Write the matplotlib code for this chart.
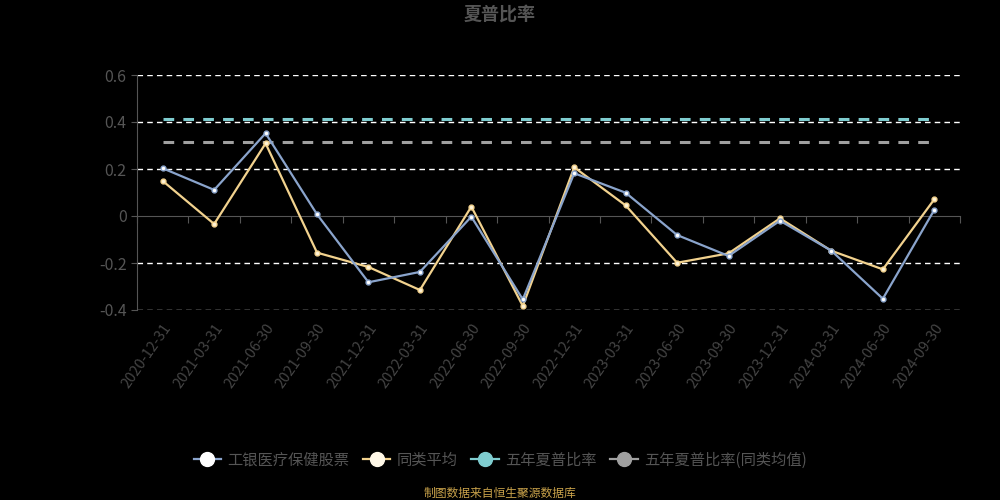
import matplotlib
matplotlib.use("Agg")
import matplotlib.pyplot as plt
from matplotlib.lines import Line2D

plt.rcParams['font.family'] = ['Noto Sans CJK SC', 'DejaVu Sans']

dates = ["2020-12-31", "2021-03-31", "2021-06-30", "2021-09-30", "2021-12-31",
         "2022-03-31", "2022-06-30", "2022-09-30", "2022-12-31", "2023-03-31",
         "2023-06-30", "2023-09-30", "2023-12-31", "2024-03-31", "2024-06-30",
         "2024-09-30"]
fund = [0.203, 0.111, 0.352, 0.007, -0.282, -0.238, -0.003, -0.355, 0.182,
        0.099, -0.081, -0.170, -0.020, -0.148, -0.352, 0.026]
peer = [0.149, -0.034, 0.309, -0.156, -0.217, -0.315, 0.040, -0.383, 0.207,
        0.045, -0.199, -0.159, -0.010, -0.148, -0.227, 0.071]
five_year = 0.413
five_year_peer = 0.316

names = ["工银医疗保健股票", "同类平均", "五年夏普比率", "五年夏普比率(同类均值)"]
c_fund = "#8aa4cc"
c_peer = "#f2d28e"
c_five = "#7fcdd0"
c_five_peer = "#a0a0a0"
grey_txt = "#555555"

fig = plt.figure(figsize=(10, 5), dpi=100, facecolor="black")
ax = fig.add_axes([0.137, 0.38, 0.823, 0.47], facecolor="black")

x = list(range(len(dates)))
ax.set_xlim(-0.5, len(dates) - 0.5)
ax.set_ylim(-0.4, 0.6)

# grid
for v in [0.6, 0.4, 0.2, -0.2, -0.4]:
    ax.axhline(v, color="white", lw=1, ls=(0, (4, 3)), zorder=1)

# five-year reference lines
ax.hlines(five_year, x[0], x[-1], color=c_five, lw=2.2, ls=(0, (3.5, 3)), zorder=2)
ax.hlines(five_year_peer, x[0], x[-1], color=c_five_peer, lw=2.2, ls=(0, (3.5, 3)), zorder=2)

ax.plot(x, fund, color=c_fund, lw=1.6, marker="o", ms=3.5, mfc="white", mec=c_fund, zorder=4)
ax.plot(x, peer, color=c_peer, lw=1.6, marker="o", ms=3.5, mfc="#fff3d6", mec=c_peer, zorder=3)

for s in ["top", "right", "bottom"]:
    ax.spines[s].set_visible(False)
ax.spines["left"].set_color(grey_txt)

ax.set_yticks([-0.4, -0.2, 0, 0.2, 0.4, 0.6])
ax.set_yticklabels(["-0.4", "-0.2", "0", "0.2", "0.4", "0.6"])
ax.tick_params(axis="y", colors=grey_txt, labelsize=11.5, length=4)

ax.set_xticks(x)
ax.set_xticklabels(dates, rotation=55, ha="right", rotation_mode="anchor",
                   color="#444444", fontsize=10.5)
ax.tick_params(axis="x", length=0, pad=8)

# zero axis with boundary ticks
zero_ax = ax.secondary_xaxis(0.4)
zero_ax.set_xticks([i - 0.5 for i in range(len(dates) + 1)])
zero_ax.set_xticklabels([])
zero_ax.tick_params(length=5, colors=grey_txt)
zero_ax.spines["bottom"].set_color(grey_txt)

fig.text(0.5, 0.972, "夏普比率", ha="center", va="center", color=grey_txt,
         fontsize=13, fontweight="bold")

handles = [
    Line2D([], [], color=c_fund, lw=1.6, marker="o", ms=10, mfc="white", mec="white"),
    Line2D([], [], color=c_peer, lw=1.6, marker="o", ms=10, mfc="#fff8e8", mec="#fff8e8"),
    Line2D([], [], color=c_five, lw=1.6, marker="o", ms=10, mfc=c_five, mec=c_five),
    Line2D([], [], color=c_five_peer, lw=1.6, marker="o", ms=10, mfc=c_five_peer, mec=c_five_peer),
]
leg = fig.legend(handles, names, loc="center", bbox_to_anchor=(0.5, 0.08), ncol=4,
                 frameon=False, fontsize=11, handlelength=1.8, columnspacing=0.9,
                 handletextpad=0.4)
for t in leg.get_texts():
    t.set_color(grey_txt)

fig.text(0.5, 0.014, "制图数据来自恒生聚源数据库", ha="center", va="center",
         color="#c9a24a", fontsize=8.5)

fig.savefig("out.png", dpi=100, facecolor="black")
